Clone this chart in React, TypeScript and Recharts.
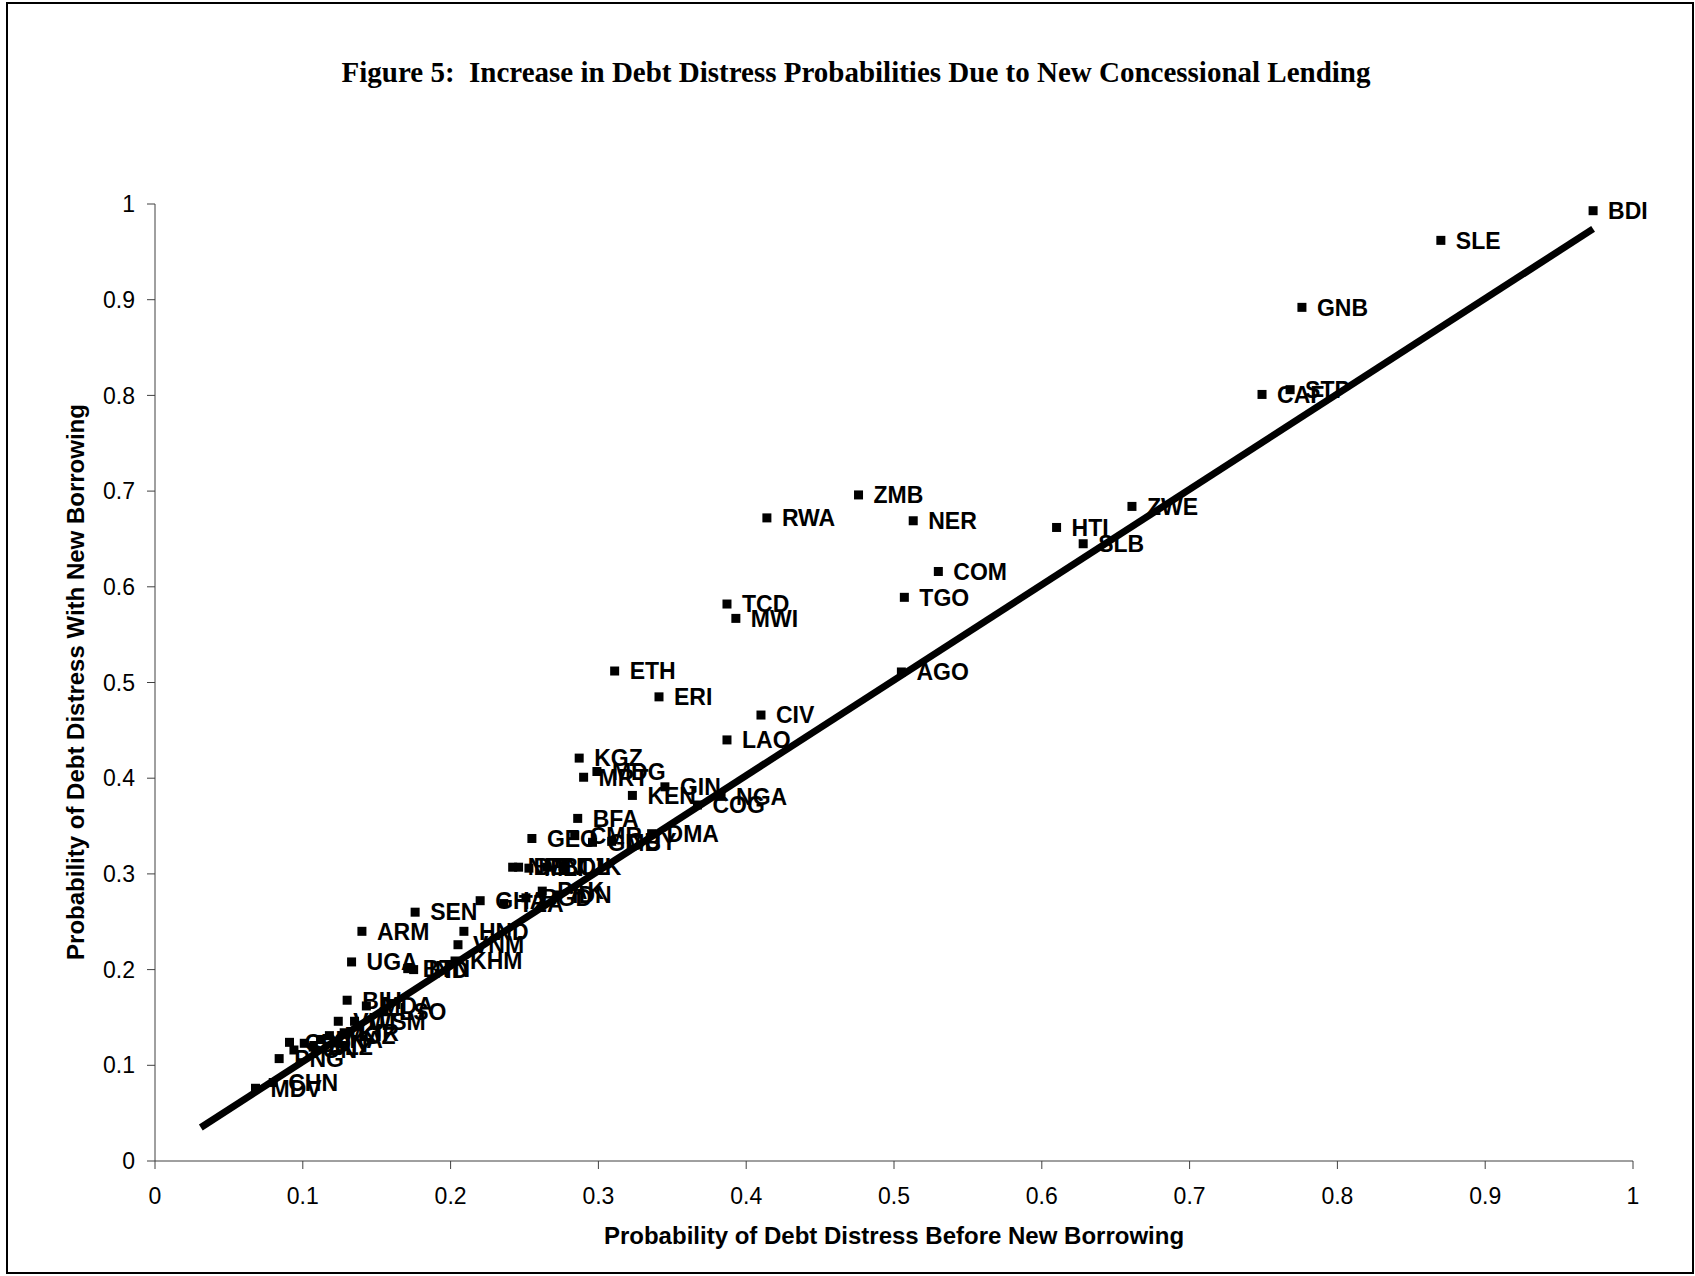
import React from "react";
import {ScatterChart, Scatter, XAxis, YAxis} from "recharts";

// country codes and debt distress probabilities (before / after new borrowing)
const countries = [
    "BDI", "SLE", "GNB", "CAF", "STP", "ZMB", "RWA", "NER", "ZWE", "HTI",
    "SLB", "COM", "TGO", "TCD", "MWI", "ETH", "ERI", "AGO", "CIV", "LAO",
    "KGZ", "MDG", "MRT", "GIN", "KEN", "NGA", "COG", "BFA", "GEO", "CMR",
    "GMB", "GUY", "DMA", "NPL", "BEN", "MLI", "BOL", "TJK", "PAK", "GHA",
    "TZA", "BGD", "IDN", "SEN", "ARM", "HND", "VNM", "KHM", "UGA", "BTN",
    "IND", "BIH", "MDA", "LSO", "VUT", "WSM", "KIR", "MOZ", "LKA", "CPV",
    "SDN", "TON", "PNG", "BLZ", "MDV", "CHN",
];
const probBefore = [
    0.973, 0.870, 0.776, 0.749, 0.768, 0.476, 0.414, 0.513, 0.661, 0.610,
    0.628, 0.530, 0.507, 0.387, 0.393, 0.311, 0.341, 0.505, 0.410, 0.387,
    0.287, 0.299, 0.290, 0.345, 0.323, 0.383, 0.367, 0.286, 0.255, 0.284,
    0.296, 0.309, 0.336, 0.242, 0.246, 0.253, 0.265, 0.276, 0.262, 0.220,
    0.236, 0.251, 0.272, 0.176, 0.140, 0.209, 0.205, 0.203, 0.133, 0.171,
    0.175, 0.130, 0.143, 0.155, 0.124, 0.135, 0.128, 0.118, 0.112, 0.091,
    0.101, 0.094, 0.084, 0.107, 0.068, 0.080,
];
const probAfter = [
    0.993, 0.962, 0.892, 0.801, 0.806, 0.696, 0.672, 0.669, 0.684, 0.662,
    0.645, 0.616, 0.589, 0.582, 0.567, 0.512, 0.485, 0.511, 0.466, 0.440,
    0.421, 0.407, 0.401, 0.391, 0.382, 0.381, 0.372, 0.358, 0.337, 0.340,
    0.333, 0.334, 0.342, 0.307, 0.307, 0.306, 0.307, 0.308, 0.282, 0.272,
    0.269, 0.275, 0.278, 0.260, 0.240, 0.240, 0.226, 0.209, 0.208, 0.201,
    0.200, 0.168, 0.162, 0.156, 0.146, 0.146, 0.134, 0.131, 0.127, 0.124,
    0.123, 0.116, 0.107, 0.119, 0.076, 0.082,
];

// 45-degree-ish reference line
const lineBefore = [0.031, 0.973];
const lineAfter = [0.035, 0.974];

const axisTicks = [0, 0.1, 0.2, 0.3, 0.4, 0.5, 0.6, 0.7, 0.8, 0.9, 1];

const points = countries.map((name, i) => ({name, x: probBefore[i], y: probAfter[i]}));
const linePoints = lineBefore.map((x, i) => ({x, y: lineAfter[i]}));

const SANS = "'Liberation Sans', Arial, sans-serif";
const SERIF = "'Liberation Serif', 'Times New Roman', serif";

const CountryMark = (props: any) => {
    const {cx, cy, payload} = props;
    if (cx == null || cy == null) return <g/>;
    return (
        <g>
            <rect x={cx - 4.5} y={cy - 4.5} width={9} height={9} fill="#000"/>
            <text x={cx + 15} y={cy} dy="0.36em" fontFamily={SANS} fontWeight="bold"
                  fontSize={23} fill="#000">{payload.name}</text>
        </g>
    );
};

const fmt = (v: number) => String(Number(v.toFixed(1)));

export default function App() {
    return (
        <div style={{position: "absolute", left: 0, top: 0, width: 1695, height: 1276, background: "#fff"}}>
            <div style={{
                position: "absolute", left: 6, top: 2, width: 1684, height: 1268,
                border: "2px solid #000",
            }}/>
            <div style={{
                position: "absolute", left: 0, top: 54, width: 1712, textAlign: "center",
                fontFamily: SERIF, fontWeight: "bold", fontSize: 29, lineHeight: "36px", whiteSpace: "pre",
            }}>
                Figure 5:  Increase in Debt Distress Probabilities Due to New Concessional Lending
            </div>
            <ScatterChart width={1695} height={1276}
                          margin={{top: 204, right: 62, bottom: 55, left: 75}}>
                <XAxis type="number" dataKey="x" domain={[0, 1]} ticks={axisTicks}
                       tickFormatter={fmt} height={60} tickSize={8} tickMargin={19}
                       stroke="#404040" tick={{fill: "#000", fontSize: 23, fontFamily: SANS}}/>
                <YAxis type="number" dataKey="y" domain={[0, 1]} ticks={axisTicks}
                       tickFormatter={fmt} width={80} tickSize={8} tickMargin={12}
                       stroke="#404040" tick={{fill: "#000", fontSize: 23, fontFamily: SANS}}/>
                <Scatter data={points} shape={CountryMark} isAnimationActive={false}/>
                <Scatter data={linePoints} line={{stroke: "#000", strokeWidth: 7}}
                         shape={() => <g/>} isAnimationActive={false}/>
            </ScatterChart>
            <div style={{
                position: "absolute", left: 894, top: 1236, transform: "translate(-50%, -50%)",
                fontFamily: SANS, fontWeight: "bold", fontSize: 24, whiteSpace: "nowrap",
            }}>
                Probability of Debt Distress Before New Borrowing
            </div>
            <div style={{
                position: "absolute", left: 76, top: 682, transform: "translate(-50%, -50%) rotate(-90deg)",
                fontFamily: SANS, fontWeight: "bold", fontSize: 24, whiteSpace: "nowrap",
            }}>
                Probability of Debt Distress With New Borrowing
            </div>
        </div>
    );
}
